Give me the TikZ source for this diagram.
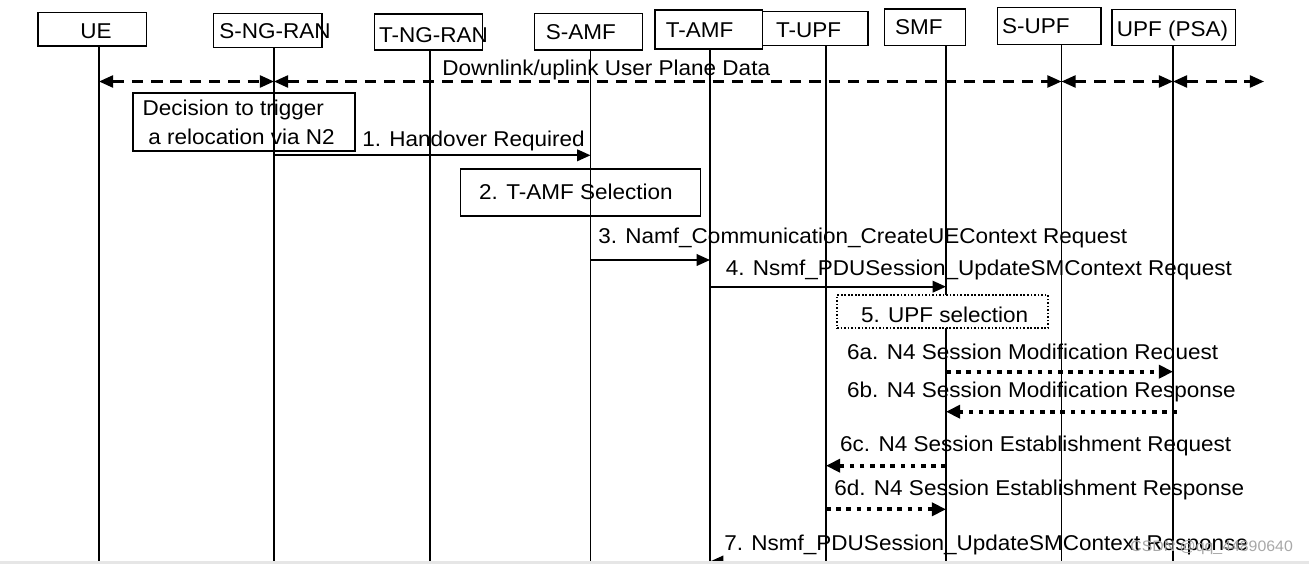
\documentclass[tikz,border=0pt]{standalone}
\usepackage{fontspec}
\setmainfont{Liberation Sans}[FakeStretch=1.05]
\usetikzlibrary{arrows.meta, fit, positioning}
\definecolor{ink}{HTML}{000000}
\definecolor{wmark}{HTML}{A8A8A8}
\definecolor{band}{HTML}{E6E6E6}
\tikzset{
  hdrbox/.style={draw=ink, line width=0.75pt, inner sep=0pt},
  notebox/.style={draw=ink, line width=1.1pt, inner sep=0pt},
  dotbox/.style={draw=ink, fill=white, line width=1pt, dash pattern=on 1pt off 1pt, inner sep=0pt},
  txt/.style={anchor=base west, inner sep=0pt, text=ink, font=\fontsize{12.2}{14}\selectfont},
  life/.style={ink, line width=0.75pt},
  msg/.style={ink, line width=1pt, -{Triangle[length=7.6pt,width=6.6pt]}},
  upd/.style={ink, line width=1.4pt, dash pattern=on 6.5pt off 4.5pt},
  updtip/.style={upd, {Triangle[length=8pt,width=6.8pt]}-{Triangle[length=8pt,width=6.8pt]}},
  n4/.style={ink, line width=2.2pt, dash pattern=on 2.6pt off 3.2pt, -{Triangle[length=8pt,width=7.4pt]}}
}

\begin{document}
\begin{tikzpicture}[x=0.02cm, y=-0.02cm]
  \fill[white] (0,0) rectangle (1309,564);
  \useasboundingbox (0,0) rectangle (1309,564);
  % entities and lifelines
  \foreach \nm/\l/\t/\r/\b/\tx/\ty/\lx/\lbl in {
      ue/38/12.3/146.5/46/80/39/99/UE,
      sran/213.4/13.3/322/47.7/219/38.3/274/S-NG-RAN,
      tran/374.6/14/482.7/50/378.8/42.3/430/T-NG-RAN,
      samf/534.5/13.3/642.3/50/545.5/40/590.5/S-AMF,
      tupf/762.4/11.7/868/45.7/775.7/37.7/826/T-UPF,
      tamf/655/10/762.4/49/665.6/37.7/710/T-AMF,
      smf/884.5/9/965.5/45.7/894.7/35/946/SMF,
      supf/997.5/7.3/1101/44.3/1001.8/33.3/1061.5/S-UPF,
      psa/1112/9.3/1235.6/45.7/1116.5/36.7/1173/UPF (PSA)}{
    \node[hdrbox, fit={(\l,\t) (\r,\b)}] (\nm) {};
    \node[txt] (\nm-t) at (\tx,\ty) {\lbl};
    \coordinate (\nm-end) at (\lx,560.5);
    \draw[life] (\nm.south -| \nm-end) -- (\nm-end);
  }
  % user plane
  \coordinate (dlend) at (1264,81.5);
  \node[txt] (dl) at (442,76) {Downlink/uplink User Plane Data};
  \draw[updtip] (ue-end |- 0,81.5) -- (sran-end |- 0,81.5);
  \draw[updtip] (sran-end |- 0,81.5) -- (supf-end |- 0,81.5);
  \draw[updtip] (supf-end |- 0,81.5) -- (psa-end |- 0,81.5);
  \draw[upd, {Triangle[length=8pt,width=6.8pt]}-{Triangle[length=8pt,width=6.8pt]}] (psa-end |- 0,81.5) -- (dlend);
  % handover required
  \node[notebox, fit={(133,92.7) (355,150.7)}] (decide) {};
  \node[txt] (decide-a) at (142.3,115.7) {Decision to trigger};
  \node[txt] (decide-b) at (148,144.3) {a relocation via N2};
  \node[txt] (m1) at (362,146.7) {1. Handover Required};
  \draw[msg] (sran-end |- 0,155.3) -- (samf-end |- 0,155.3);
  \node[notebox, fit={(460.5,169.3) (700.5,215.7)}] (tsel) {};
  \node[txt] (tsel-t) at (478.8,200) {2. T-AMF Selection};
  \node[txt] (m3) at (598,243.3) {3. Namf\_Communication\_CreateUEContext Request};
  \draw[msg] (samf-end |- 0,260) -- (tamf-end |- 0,260);
  \node[txt] (m4) at (725.5,276) {4. Nsmf\_PDUSession\_UpdateSMContext Request};
  \draw[msg] (tamf-end |- 0,286.7) -- (smf-end |- 0,286.7);
  \node[dotbox, fit={(837,295) (1048,328.3)}] (usel) {};
  \node[txt] (usel-t) at (860.7,322.3) {5. UPF selection};
  % N4 sessions
  \node[txt] (m6a) at (846.8,359) {6a. N4 Session Modification Request};
  \draw[n4] (smf-end |- 0,371.7) -- (psa-end |- 0,371.7);
  \node[txt] (m6b) at (846.8,397.7) {6b. N4 Session Modification Response};
  \draw[n4] (1177,411.7) -- (smf-end |- 0,411.7);
  \node[txt] (m6c) at (839.8,451) {6c. N4 Session Establishment Request};
  \draw[n4] (smf-end |- 0,465.7) -- (tupf-end |- 0,465.7);
  \node[txt] (m6d) at (834,495.7) {6d. N4 Session Establishment Response};
  \draw[n4] (tupf-end |- 0,509.3) -- (smf-end |- 0,509.3);
  \node[txt] (m7) at (724,550) {7. Nsmf\_PDUSession\_UpdateSMContext Response};
  \draw[msg] (smf-end |- 0,561.5) -- (tamf-end |- 0,561.5);
  \fill[band] (0,560.5) rectangle (1309,564);
  \node[txt, font=\fontsize{8.6}{10}\selectfont, text=wmark] (wm) at (1130,551) {CSDN @qq\_44890640};
\end{tikzpicture}
\end{document}
